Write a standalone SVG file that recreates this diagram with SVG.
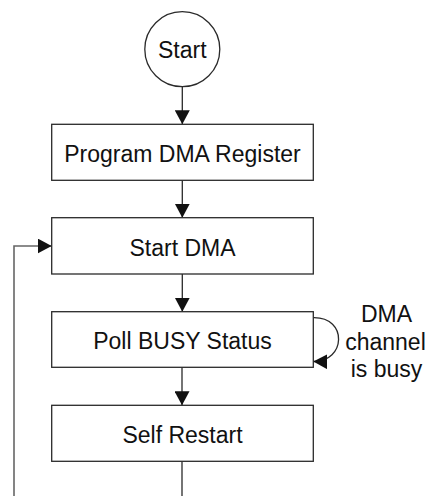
<svg xmlns="http://www.w3.org/2000/svg" width="427" height="496" viewBox="0 0 427 496">
<style>
  .box { fill: #fff; stroke: #2a2a2a; stroke-width: 1.3; }
  .lbl { font-family: "Liberation Sans", Arial, sans-serif; font-size: 23px; fill: #111; text-anchor: middle; }
  .conn { fill: none; stroke: #2a2a2a; stroke-width: 1.3; }
  .loop { fill: none; stroke: #666; stroke-width: 1.6; }
</style>
<defs>
  <marker id="arr" markerUnits="userSpaceOnUse" markerWidth="15" markerHeight="15" refX="14" refY="7.5" orient="auto">
    <path d="M0,0 L14,7.5 L0,15 z" fill="#111"/>
  </marker>
</defs>
<rect width="427" height="496" fill="#fff"/>
<g id="connectors">
  <path class="conn" d="M182.3,86.7 V124.3" marker-end="url(#arr)"/>
  <path class="conn" d="M182.3,180.3 V217.7" marker-end="url(#arr)"/>
  <path class="conn" d="M182.3,274 V311.7" marker-end="url(#arr)"/>
  <path class="conn" d="M182,367.3 V405.3" marker-end="url(#arr)"/>
  <path class="conn" d="M182,461.3 V510"/>
  <path class="loop" d="M182,510 H14 V246 H51.7" marker-end="url(#arr)"/>
  <path class="conn" d="M313.3,317.7 C348,317 346,362 313.3,361.5" marker-end="url(#arr)"/>
</g>
<g id="start">
  <circle cx="182.3" cy="49.2" r="37.5" class="box"/>
  <text class="lbl" x="182.3" y="57.5">Start</text>
</g>
<g id="program-dma-register">
  <rect class="box" x="51.7" y="124.3" width="261.6" height="56"/>
  <text class="lbl" x="182.5" y="162.3">Program DMA Register</text>
</g>
<g id="start-dma">
  <rect class="box" x="51.7" y="217.7" width="261.6" height="56.3"/>
  <text class="lbl" x="182.5" y="256">Start DMA</text>
</g>
<g id="poll-busy-status">
  <rect class="box" x="51.7" y="311.7" width="261.6" height="55.6"/>
  <text class="lbl" x="182.5" y="349">Poll BUSY Status</text>
</g>
<g id="self-restart">
  <rect class="box" x="51.7" y="405.3" width="261.6" height="56"/>
  <text class="lbl" x="182.5" y="442.7">Self Restart</text>
</g>
<g id="busy-label">
  <text class="lbl" x="386.5" y="322.2">DMA</text>
  <text class="lbl" x="385.5" y="349.5">channel</text>
  <text class="lbl" x="386.5" y="377">is busy</text>
</g>
</svg>
